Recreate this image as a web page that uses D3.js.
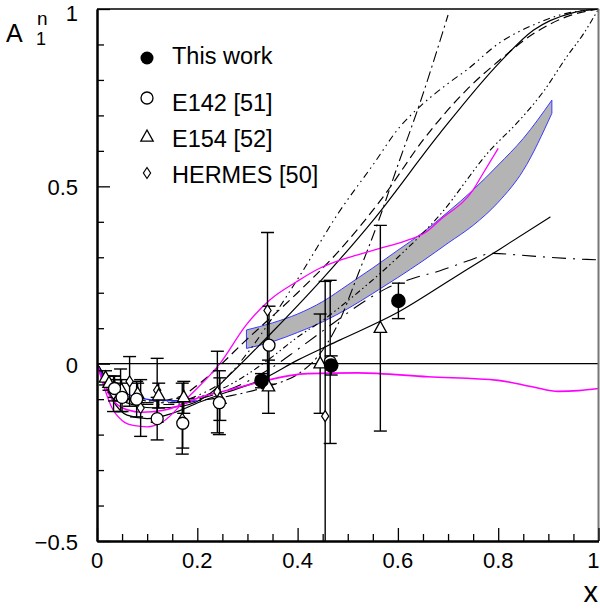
<!DOCTYPE html>
<html><head><meta charset="utf-8">
<script src="https://cdn.jsdelivr.net/npm/d3@7"></script>
<style>
body{margin:0;background:#fff;}
text{font-family:"Liberation Sans",Arial,Helvetica,sans-serif;fill:#000;}
</style></head>
<body>
<svg id="chart" width="600" height="609"></svg>
<script>
// ---------------- data ----------------
const xTicksMajor = [0, 0.2, 0.4, 0.6, 0.8, 1];
const xTickLabels = ["0", "0.2", "0.4", "0.6", "0.8", "1"];
const yTicksMajor = [-0.5, 0, 0.5, 1];
const yTickLabels = ["\u22120.5", "0", "0.5", "1"];

// This work (filled circles)
const thisX = [0.328, 0.467, 0.601];
const thisY = [-0.048, -0.005, 0.177];
const thisE = [0.02, 0.027, 0.05];

// E142 (open circles)
const e142X = [0.035, 0.050, 0.079, 0.120, 0.171, 0.244, 0.343, 0.465];
const e142Y = [-0.07, -0.095, -0.10, -0.155, -0.168, -0.11, 0.052, 0.005];
const e142E = [0.035, 0.04, 0.05, 0.06, 0.07, 0.09, 0.11, 0.23];

// E154 (open triangles)
const e154X = [0.017, 0.024, 0.035, 0.049, 0.081, 0.123, 0.173, 0.245, 0.342, 0.445, 0.565];
const e154Y = [-0.04, -0.055, -0.07, -0.075, -0.085, -0.09, -0.095, -0.10, -0.065, 0.0, 0.10];
const e154E = [0.02, 0.02, 0.025, 0.03, 0.03, 0.035, 0.045, 0.06, 0.075, 0.14, 0.29];

// HERMES (open diamonds)
const hermX = [0.033, 0.047, 0.065, 0.087, 0.120, 0.170, 0.24, 0.34, 0.455];
const hermY = [-0.085, -0.075, -0.05, -0.125, -0.075, -0.155, -0.08, 0.15, -0.148];
const hermE = [0.05, 0.06, 0.07, 0.08, 0.09, 0.10, 0.115, 0.22, 0.38];

// Gray band
const bandX   = [0.298, 0.35, 0.40, 0.45, 0.50, 0.55, 0.60, 0.65, 0.70, 0.75, 0.80, 0.85, 0.907];
const bandTop = [0.095, 0.115, 0.14, 0.175, 0.222, 0.27, 0.32, 0.37, 0.428, 0.49, 0.56, 0.635, 0.743];
const bandBot = [0.043, 0.062, 0.088, 0.118, 0.155, 0.198, 0.243, 0.29, 0.34, 0.39, 0.455, 0.545, 0.706];

// Curves
const s1X = [0, 0.03, 0.07, 0.12, 0.17, 0.22, 0.265, 0.35, 0.45, 0.551, 0.684, 0.804, 0.87, 0.95, 1.0];
const s1Y = [0, -0.08, -0.115, -0.125, -0.12, -0.09, -0.031, 0.09, 0.24, 0.405, 0.65, 0.851, 0.94, 0.99, 1.0];

const dashX = [0, 0.03, 0.07, 0.12, 0.17, 0.205, 0.3, 0.4, 0.478, 0.571, 0.65, 0.737, 0.803, 0.87, 0.94, 1.0];
const dashY = [0, -0.07, -0.1, -0.105, -0.09, -0.055, 0.07, 0.2, 0.311, 0.471, 0.63, 0.772, 0.856, 0.93, 0.98, 1.0];

const bX = [0, 0.05, 0.1, 0.15, 0.2, 0.25, 0.3, 0.35, 0.407, 0.481, 0.55, 0.604, 0.644, 0.7, 0.737, 0.803, 0.87, 0.923, 1.0];
const bY = [0, -0.09, -0.11, -0.11, -0.09, -0.05, 0.03, 0.13, 0.254, 0.424, 0.56, 0.668, 0.725, 0.79, 0.828, 0.905, 0.955, 0.983, 1.0];

const aX = [0, 0.05, 0.1, 0.15, 0.2, 0.25, 0.3, 0.35, 0.4, 0.44, 0.48, 0.52, 0.562, 0.6, 0.644, 0.7];
const aY = [0, -0.09, -0.115, -0.115, -0.105, -0.095, -0.08, -0.06, -0.03, 0.02, 0.11, 0.25, 0.405, 0.56, 0.735, 0.983];

const b2X = [0, 0.05, 0.1, 0.15, 0.2, 0.25, 0.3, 0.35, 0.4, 0.451, 0.511, 0.6, 0.684, 0.784, 0.837, 0.89, 0.937, 0.97, 1.0];
const b2Y = [0, -0.085, -0.105, -0.105, -0.095, -0.07, -0.03, 0.02, 0.075, 0.123, 0.19, 0.3, 0.42, 0.602, 0.678, 0.767, 0.866, 0.93, 1.0];

const d1X = [0, 0.05, 0.1, 0.15, 0.2, 0.25, 0.3, 0.35, 0.4, 0.471, 0.538, 0.578, 0.631, 0.684, 0.74, 0.79, 0.843, 0.9, 0.976, 1.0];
const d1Y = [0, -0.09, -0.11, -0.11, -0.1, -0.08, -0.05, -0.01, 0.04, 0.114, 0.18, 0.213, 0.241, 0.262, 0.29, 0.311, 0.306, 0.30, 0.294, 0.293];

const s2X = [0, 0.03, 0.06, 0.1, 0.15, 0.205, 0.26, 0.325, 0.4, 0.485, 0.6, 0.71, 0.8, 0.904];
const s2Y = [0, -0.1, -0.145, -0.155, -0.14, -0.108, -0.08, -0.047, 0.01, 0.067, 0.145, 0.241, 0.32, 0.414];

const blueX = [0, 0.01, 0.025, 0.05, 0.08, 0.12, 0.17, 0.2];
const blueY = [0, -0.03, -0.06, -0.08, -0.095, -0.103, -0.105, -0.105];

const m1X = [0, 0.015, 0.03, 0.05, 0.075, 0.1, 0.13, 0.179, 0.245, 0.298, 0.345, 0.398, 0.444, 0.485, 0.518, 0.564, 0.611, 0.657, 0.684, 0.75, 0.77, 0.8];
const m1Y = [0, -0.07, -0.125, -0.16, -0.175, -0.178, -0.165, -0.098, 0.0, 0.11, 0.18, 0.231, 0.269, 0.292, 0.306, 0.325, 0.344, 0.372, 0.405, 0.49, 0.537, 0.607];

const m2X = [0, 0.015, 0.03, 0.06, 0.09, 0.13, 0.17, 0.205, 0.26, 0.315, 0.42, 0.52, 0.66, 0.8, 0.87, 0.92, 0.96, 1.0];
const m2Y = [0, -0.06, -0.1, -0.13, -0.137, -0.132, -0.115, -0.095, -0.075, -0.055, -0.028, -0.026, -0.037, -0.047, -0.066, -0.078, -0.076, -0.07];

const legendLabels = ["This work", "E142 [51]", "E154 [52]", "HERMES [50]"];

// ---------------- drawing ----------------
const svg = d3.select("#chart");
const x = d3.scaleLinear().domain([0, 1]).range([97, 598.5]);
const y = d3.scaleLinear().domain([-0.5, 1]).range([541, 9]);
const zip = (a, b) => a.map((v, i) => [v, b[i]]);

svg.append("clipPath").attr("id", "clip").append("rect")
  .attr("x", x(0)).attr("y", y(1)).attr("width", x(1) - x(0)).attr("height", y(-0.5) - y(1));
const plot = svg.append("g").attr("clip-path", "url(#clip)");

// band
const band = d3.area().x(d => x(d[0])).y0(d => y(d[2])).y1(d => y(d[1])).curve(d3.curveMonotoneX);
plot.append("path").datum(bandX.map((v, i) => [v, bandTop[i], bandBot[i]]))
  .attr("d", band).attr("fill", "#b4b4b4").attr("stroke", "#3a3aff").attr("stroke-width", 1);

const line = d3.line().x(d => x(d[0])).y(d => y(d[1])).curve(d3.curveMonotoneX);
const curves = [
  {xs: s1X, ys: s1Y, color: "#000", w: 1.2, dash: null},
  {xs: dashX, ys: dashY, color: "#000", w: 1.2, dash: "9,5"},
  {xs: bX, ys: bY, color: "#000", w: 1.1, dash: "7,4,1.5,4,1.5,4"},
  {xs: aX, ys: aY, color: "#000", w: 1.1, dash: "11,4,2,4"},
  {xs: b2X, ys: b2Y, color: "#000", w: 1.1, dash: "6,3,1.5,3,1.5,3"},
  {xs: d1X, ys: d1Y, color: "#000", w: 1.1, dash: "14,7,2,7"},
  {xs: s2X, ys: s2Y, color: "#000", w: 1.2, dash: null},
  {xs: blueX, ys: blueY, color: "#2020ff", w: 1.2, dash: null},
  {xs: m1X, ys: m1Y, color: "#ff00ff", w: 1.3, dash: null},
  {xs: m2X, ys: m2Y, color: "#ff00ff", w: 1.6, dash: null}
];
curves.forEach(c => {
  plot.append("path").datum(zip(c.xs, c.ys)).attr("d", line)
    .attr("fill", "none").attr("stroke", c.color).attr("stroke-width", c.w)
    .attr("stroke-dasharray", c.dash);
});

// zero line
plot.append("line").attr("x1", x(0)).attr("x2", x(1)).attr("y1", y(0)).attr("y2", y(0))
  .attr("stroke", "#000").attr("stroke-width", 1.2);

// error bars
function errBars(xs, ys, es) {
  xs.forEach((xv, i) => {
    const g = plot.append("g").attr("stroke", "#000").attr("stroke-width", 1.4);
    const px = x(xv), t = y(ys[i] + es[i]), b = y(ys[i] - es[i]);
    g.append("line").attr("x1", px).attr("x2", px).attr("y1", t).attr("y2", b);
    g.append("line").attr("x1", px - 6.5).attr("x2", px + 6.5).attr("y1", t).attr("y2", t);
    g.append("line").attr("x1", px - 6.5).attr("x2", px + 6.5).attr("y1", b).attr("y2", b);
  });
}
errBars(e142X, e142Y, e142E);
errBars(e154X, e154Y, e154E);
errBars(hermX, hermY, hermE);
errBars(thisX, thisY, thisE);

// markers
const tri = "M0,-7L6.2,4.2L-6.2,4.2Z";
const dia = "M0,-5.5L3.6,0L0,5.5L-3.6,0Z";
function drawMarker(g, kind, px, py) {
  if (kind === "fc") g.append("circle").attr("cx", px).attr("cy", py).attr("r", 7.3).attr("fill", "#000");
  if (kind === "oc") g.append("circle").attr("cx", px).attr("cy", py).attr("r", 6)
    .attr("fill", "#fff").attr("stroke", "#000").attr("stroke-width", 1.3);
  if (kind === "tr") g.append("path").attr("d", tri).attr("transform", `translate(${px},${py})`)
    .attr("fill", "#fff").attr("stroke", "#000").attr("stroke-width", 1.3);
  if (kind === "di") g.append("path").attr("d", dia).attr("transform", `translate(${px},${py})`)
    .attr("fill", "#fff").attr("stroke", "#000").attr("stroke-width", 1.2);
}
hermX.forEach((v, i) => drawMarker(plot, "di", x(v), y(hermY[i])));
e154X.forEach((v, i) => drawMarker(plot, "tr", x(v), y(e154Y[i])));
e142X.forEach((v, i) => drawMarker(plot, "oc", x(v), y(e142Y[i])));
thisX.forEach((v, i) => drawMarker(plot, "fc", x(v), y(thisY[i])));

// frame
svg.append("line").attr("x1", x(0)).attr("x2", x(1)).attr("y1", y(1)).attr("y2", y(1))
  .attr("stroke", "#000").attr("stroke-width", 1.5);
svg.append("line").attr("x1", x(1)).attr("x2", x(1)).attr("y1", y(1)).attr("y2", y(-0.5))
  .attr("stroke", "#777").attr("stroke-width", 2);

// axes with inward ticks
const xMinor = d3.range(0, 1.0001, 0.05).filter(v => Math.abs(v * 5 - Math.round(v * 5)) > 1e-6);
const yMinor = d3.range(-0.5, 1.0001, 0.1).filter(v => Math.abs(v * 2 - Math.round(v * 2)) > 1e-6);

const gx = svg.append("g").attr("transform", `translate(0,${y(-0.5)})`);
gx.call(d3.axisBottom(x).tickValues(xTicksMajor).tickSize(-13).tickFormat("").tickSizeOuter(0));
gx.append("g").call(d3.axisBottom(x).tickValues(xMinor).tickSize(-7).tickFormat("").tickSizeOuter(0));
gx.selectAll("path.domain").attr("stroke-width", 2);
gx.selectAll("line").attr("stroke-width", 1.3);

const gy = svg.append("g").attr("transform", `translate(${x(0)},0)`);
gy.call(d3.axisLeft(y).tickValues(yTicksMajor).tickSize(-13).tickFormat("").tickSizeOuter(0));
gy.append("g").call(d3.axisLeft(y).tickValues(yMinor).tickSize(-7).tickFormat("").tickSizeOuter(0));
gy.selectAll("path.domain").attr("stroke-width", 2);
gy.selectAll("line").attr("stroke-width", 1.3);

// tick labels
xTicksMajor.forEach((v, i) => {
  const last = i === xTicksMajor.length - 1;
  svg.append("text").attr("x", last ? 599.5 : x(v)).attr("y", 568)
    .attr("text-anchor", last ? "end" : "middle")
    .attr("font-size", 22).text(xTickLabels[i]);
});
yTicksMajor.forEach((v, i) => {
  svg.append("text").attr("x", 78).attr("y", Math.max(y(v) + 9, 21)).attr("text-anchor", "end")
    .attr("font-size", 22).text(yTickLabels[i]);
});

// axis titles
svg.append("text").attr("x", 6).attr("y", 42).attr("font-size", 25).text("A");
svg.append("text").attr("x", 37).attr("y", 25).attr("font-size", 19).text("n");
svg.append("text").attr("x", 36).attr("y", 45).attr("font-size", 18).text("1");
svg.append("text").attr("x", 598).attr("y", 602).attr("text-anchor", "end").attr("font-size", 29).text("x");

// legend
const legKinds = ["fc", "oc", "tr", "di"];
const legMarkY = [58, 98, 137, 173];
const legTextY = [63.5, 110.5, 146.5, 183];
const lg = svg.append("g");
legKinds.forEach((k, i) => {
  if (k === "fc") lg.append("circle").attr("cx", 147).attr("cy", legMarkY[i]).attr("r", 6.5).attr("fill", "#000");
  else drawMarker(lg, k, 147, legMarkY[i]);
  lg.append("text").attr("x", 172).attr("y", legTextY[i]).attr("font-size", 23.5).text(legendLabels[i]);
});
</script>
</body></html>
